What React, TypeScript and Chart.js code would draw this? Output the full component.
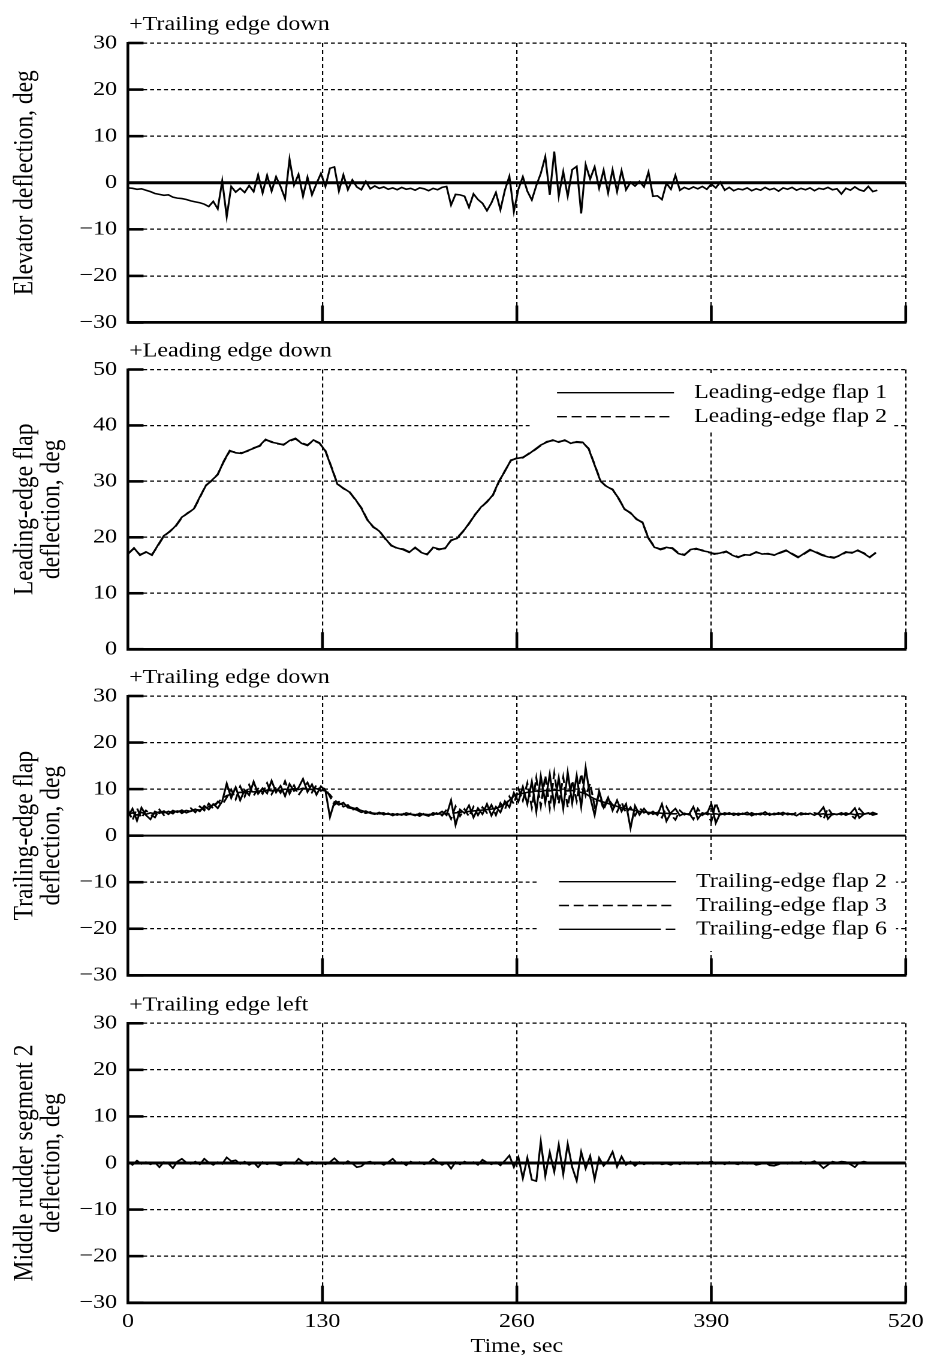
import React, { useEffect, useRef } from "react";
import { Chart, registerables } from "chart.js";

Chart.register(...registerables);

// ---------------- data ----------------
const X_TICK_STEP = 130;
const X_MIN = 0;
const X_MAX = 520;

const PANEL_TITLES = ["+Trailing edge down", "+Leading edge down", "+Trailing edge down", "+Trailing edge left"];
const Y_TITLES: (string | string[])[] = [
  "Elevator deflection, deg",
  ["Leading-edge flap", "deflection, deg"],
  ["Trailing-edge flap", "deflection, deg"],
  ["Middle rudder segment 2", "deflection, deg"],
];
const X_TITLE = "Time, sec";

// elevator, one sample every 3 s
const ELEVATOR_STEP = 3;
const ELEVATOR = [
  -1.1, -1.2, -1.4, -1.3, -1.6, -1.9, -2.3, -2.5, -2.7, -2.6,
  -3.1, -3.3, -3.4, -3.6, -3.9, -4.1, -4.3, -4.6, -5.1, -4.0,
  -5.6, 0.4, -7.3, -0.8, -2.0, -1.2, -2.1, -0.6, -1.9, 1.7,
  -2.2, 1.6, -1.8, 1.3, -0.8, -3.4, 5.1, -0.5, 1.8, -2.9,
  1.2, -2.6, -0.2, 2.0, -0.8, 3.1, 3.4, -1.8, 1.7, -1.5,
  0.6, -0.9, -1.5, 0.3, -1.3, -0.7, -1.2, -0.9, -1.4, -1.1,
  -1.5, -1.0, -1.4, -1.2, -1.6, -1.1, -1.3, -1.7, -1.2, -1.5,
  -1.0, -0.8, -4.8, -2.5, -2.6, -2.9, -5.3, -2.4, -3.6, -4.4,
  -6.0, -4.3, -2.1, -5.8, -1.6, 1.4, -6.2, -1.4, 1.3, -1.8,
  -3.7, -0.6, 2.0, 5.6, -2.6, 6.7, -2.9, 2.4, -2.9, 2.8,
  3.5, -6.6, 3.9, 0.8, 3.4, -1.2, 2.7, -2.2, 2.8, -1.9,
  2.6, -1.5, 0.1, -0.7, 0.3, -0.9, 2.3, -2.9, -2.8, -3.6,
  -0.1, -1.4, 1.6, -1.6, -1.0, -1.4, -0.9, -1.3, -0.8, -1.4,
  -0.3, -1.1, 0.1, -1.6, -1.0, -1.7, -1.3, -1.5, -1.1, -1.7,
  -1.3, -1.6, -1.0, -1.5, -1.2, -1.8, -1.1, -1.4, -1.0, -1.6,
  -1.2, -1.5, -1.1, -1.7, -1.2, -1.4, -1.0, -1.5, -1.3, -2.4,
  -1.2, -1.6, -0.9, -1.5, -1.8, -0.8, -1.9, -1.6,
];

// leading-edge flaps, one sample every 4 s
const LE_STEP = 4;
const LE_FLAP_1 = [
  17.0, 18.1, 16.8, 17.4, 16.8, 18.6, 20.3, 21.0, 22.1, 23.6,
  24.3, 25.1, 27.2, 29.2, 30.2, 31.2, 33.6, 35.5, 35.1, 35.0,
  35.5, 35.9, 36.4, 37.5, 37.0, 36.8, 36.5, 37.3, 37.7, 36.8,
  36.4, 37.4, 36.9, 35.4, 32.5, 29.5, 28.8, 28.1, 26.8, 25.2,
  23.1, 21.9, 21.1, 19.8, 18.5, 18.1, 17.8, 17.3, 18.2, 17.3,
  16.9, 18.2, 17.9, 18.0, 19.5, 19.8, 21.0, 22.5, 24.0, 25.4,
  26.3, 27.6, 30.0, 31.8, 33.8, 34.1, 34.3, 34.9, 35.7, 36.5,
  37.0, 37.4, 37.0, 37.4, 36.8, 37.1, 37.0, 35.8, 32.9, 30.0,
  29.1, 28.5, 27.0, 25.0, 24.4, 23.2, 22.7, 19.8, 18.2, 17.9,
  18.2, 18.0, 17.1, 16.8, 17.8, 18.0, 17.6, 17.4, 17.0, 17.2,
  17.5, 16.8, 16.4, 16.9, 16.8, 17.4, 17.0, 17.1, 16.8, 17.3,
  17.7, 17.0, 16.4, 17.1, 17.8, 17.3, 16.8, 16.5, 16.3, 16.8,
  17.4, 17.2, 17.7, 17.1, 16.4, 17.3,
];
const LE_FLAP_2 = [
  17.1, 18.0, 16.9, 17.3, 16.9, 18.5, 20.2, 21.1, 22.0, 23.5,
  24.4, 25.0, 27.1, 29.3, 30.1, 31.3, 33.5, 35.4, 35.2, 35.1,
  35.4, 36.0, 36.3, 37.4, 37.1, 36.7, 36.6, 37.2, 37.6, 36.9,
  36.5, 37.3, 36.8, 35.5, 32.6, 29.6, 28.7, 28.2, 26.7, 25.3,
  23.2, 21.8, 21.2, 19.7, 18.6, 18.0, 17.9, 17.4, 18.1, 17.4,
  17.0, 18.1, 17.8, 18.1, 19.4, 19.9, 21.1, 22.4, 24.1, 25.3,
  26.4, 27.5, 29.9, 31.9, 33.7, 34.2, 34.2, 35.0, 35.6, 36.4,
  37.1, 37.3, 37.1, 37.3, 36.9, 37.0, 36.9, 35.9, 33.0, 30.1,
  29.0, 28.6, 26.9, 25.1, 24.3, 23.3, 22.6, 19.9, 18.3, 17.8,
  18.1, 18.1, 17.2, 16.9, 17.7, 17.9, 17.7, 17.3, 17.1, 17.1,
  17.4, 16.9, 16.5, 16.8, 16.9, 17.3, 17.1, 17.0, 16.9, 17.2,
  17.6, 17.1, 16.5, 17.0, 17.7, 17.4, 16.9, 16.6, 16.4, 16.7,
  17.3, 17.3, 17.6, 17.2, 16.5, 17.2,
];

// trailing-edge flaps, one sample every 3 s
const TE_STEP = 3;
const TE_FLAP_2 = [
  4.1, 5.8, 3.2, 6.0, 4.4, 3.5, 5.2, 4.8, 5.3, 4.6,
  5.4, 5.0, 5.5, 4.9, 5.3, 5.7, 5.2, 6.4, 5.6, 6.8,
  5.9, 7.4, 11.2, 8.1, 10.4, 7.6, 9.8, 8.7, 11.6, 9.0,
  10.2, 9.1, 11.8, 9.3, 10.7, 8.5, 11.1, 9.6, 10.3, 12.2,
  9.4, 11.0, 8.8, 10.6, 9.7, 4.0, 7.2, 6.6, 7.1, 6.0,
  5.8, 5.5, 5.0, 5.3, 4.8, 4.6, 5.0, 4.5, 4.8, 4.3,
  4.7, 4.4, 4.9, 4.6, 4.3, 4.8, 4.5, 4.2, 4.9, 4.6,
  5.2, 4.4, 7.6, 2.3, 5.6, 4.8, 6.5, 3.9, 5.9, 4.6,
  6.8, 4.3, 6.2, 5.0, 7.4, 6.1, 9.2, 7.3, 10.5, 6.8,
  11.6, 5.2, 12.8, 7.1, 13.2, 6.4, 12.4, 5.8, 13.6, 7.0,
  12.9, 6.2, 14.6, 8.3, 4.4, 9.6, 6.1, 8.2, 5.4, 7.6,
  5.2, 6.8, 1.6, 6.4, 4.5, 5.8, 4.6, 5.2, 4.4, 6.8,
  3.1, 4.9, 5.8, 4.3, 4.8, 4.5, 6.2, 3.6, 4.9, 4.6,
  6.9, 2.7, 4.8, 4.5, 4.9, 4.4, 4.8, 4.6, 5.0, 4.3,
  4.7, 4.5, 5.1, 4.4, 4.8, 4.6, 5.0, 4.5, 4.7, 4.3,
  4.9, 4.6, 4.8, 4.4, 4.9, 6.1, 3.6, 4.7, 4.5, 4.9,
  4.4, 4.8, 5.9, 3.8, 4.6, 4.9, 4.4, 4.7,
];
const TE_FLAP_3 = [
  5.6, 3.3, 5.9, 3.8, 5.4, 4.6, 3.9, 5.6, 4.4, 5.2,
  4.7, 5.6, 4.8, 5.4, 5.9, 5.0, 6.3, 5.4, 6.9, 5.8,
  7.3, 6.6, 8.2, 9.9, 7.8, 10.6, 8.4, 10.9, 8.6, 10.1,
  9.0, 11.3, 8.9, 10.5, 9.2, 11.7, 9.0, 10.8, 8.7, 10.1,
  11.4, 9.3, 10.9, 9.6, 10.2, 8.4, 6.6, 7.3, 6.2, 6.6,
  5.5, 6.0, 5.2, 4.8, 5.1, 4.4, 4.8, 4.9, 4.3, 4.7,
  4.4, 4.9, 4.4, 4.8, 4.7, 4.2, 4.8, 4.6, 4.4, 5.0,
  4.3, 5.6, 3.6, 6.3, 4.2, 5.7, 4.1, 6.2, 4.4, 6.1,
  4.9, 6.6, 4.4, 7.0, 5.6, 8.4, 6.8, 10.1, 7.5, 11.3,
  6.0, 12.4, 6.3, 12.9, 5.9, 13.4, 6.9, 12.6, 6.1, 11.8,
  7.4, 13.3, 8.6, 11.2, 6.3, 8.8, 5.6, 7.9, 6.6, 5.1,
  7.2, 4.8, 6.1, 4.3, 6.0, 4.9, 5.4, 4.6, 5.0, 3.9,
  6.2, 4.5, 3.4, 5.4, 4.5, 4.9, 3.5, 5.8, 4.4, 5.0,
  3.0, 7.1, 4.5, 4.9, 4.6, 4.9, 4.4, 4.8, 4.4, 4.9,
  4.5, 4.9, 4.5, 4.8, 4.5, 4.9, 4.4, 4.8, 4.5, 5.0,
  4.5, 4.8, 4.5, 4.9, 4.6, 3.5, 5.9, 4.5, 4.8, 4.5,
  4.9, 4.5, 3.7, 5.8, 4.7, 4.5, 5.0, 4.6,
];
const TE_FLAP_6 = [
  4.6, 4.9, 4.4, 5.0, 4.6, 4.9, 4.7, 5.1, 4.9, 5.2,
  5.0, 5.3, 5.1, 5.4, 5.2, 5.6, 5.5, 5.9, 6.2, 6.6,
  7.1, 8.0, 8.6, 8.9, 9.1, 9.3, 9.2, 9.5, 9.4, 9.6,
  9.5, 9.8, 9.6, 9.9, 9.7, 10.0, 9.8, 10.1, 9.9, 10.2,
  10.0, 9.9, 10.1, 9.8, 9.6, 8.8, 7.6, 7.0, 6.6, 6.3,
  6.0, 5.7, 5.4, 5.1, 4.9, 4.8, 4.7, 4.7, 4.6, 4.6,
  4.5, 4.6, 4.5, 4.6, 4.5, 4.5, 4.6, 4.5, 4.6, 4.7,
  4.6, 4.8, 4.7, 4.9, 5.0, 5.1, 5.2, 5.3, 5.4, 5.5,
  5.6, 5.7, 5.9, 6.2, 6.8, 7.6, 8.5, 8.9, 9.1, 9.3,
  9.4, 9.6, 9.5, 9.7, 9.6, 9.8, 9.7, 9.8, 9.6, 9.7,
  9.5, 9.3, 9.0, 8.4, 7.9, 7.5, 7.2, 6.9, 6.6, 6.3,
  6.0, 5.8, 5.6, 5.4, 5.2, 5.1, 5.0, 4.9, 4.9, 4.8,
  4.8, 4.7, 4.7, 4.8, 4.6, 4.7, 4.5, 4.7, 4.6, 4.8,
  4.6, 4.7, 4.5, 4.7, 4.6, 4.8, 4.6, 4.7, 4.5, 4.7,
  4.6, 4.8, 4.6, 4.7, 4.5, 4.7, 4.6, 4.8, 4.6, 4.7,
  4.5, 4.7, 4.6, 4.8, 4.6, 4.7, 4.5, 4.7, 4.6, 4.8,
  4.6, 4.7, 4.5, 4.7, 4.6, 4.8, 4.6, 4.7,
];

// middle rudder segment 2, one sample every 3 s
const RUDDER_STEP = 3;
const RUDDER = [
  0.3, -0.4, 0.5, -0.2, 0.2, -0.3, 0.1, -0.9, 0.2, -0.1,
  -1.1, 0.3, 0.9, 0.1, -0.2, 0.3, -0.3, 0.9, 0.1, -0.4,
  0.2, -0.2, 1.2, 0.4, 0.6, -0.2, 0.3, -0.4, 0.1, -0.9,
  0.2, -0.3, 0.1, -0.2, -0.5, 0.2, 0.1, -0.2, 0.9, 0.2,
  -0.4, 0.3, -0.2, 0.1, -0.3, 0.2, 1.0, 0.1, -0.2, 0.4,
  -0.1, -0.9, -0.7, 0.1, 0.3, -0.2, 0.1, -0.4, 0.2, 0.9,
  -0.1, 0.2, -0.5, 0.3, -0.1, 0.2, -0.3, 0.1, 0.9, 0.2,
  -0.4, 0.1, -1.2, 0.2, -0.3, 0.3, -0.1, 0.2, -0.4, 0.7,
  0.1, -0.3, 0.2, -0.5, 0.5, 1.6, -0.9, 1.3, -3.3, 1.1,
  -3.6, -3.9, 4.6, -2.8, 2.3, -1.9, 3.9, -2.4, 4.1, -0.9,
  -3.8, 2.4, -1.2, 1.5, -3.5, 1.1, -0.6, 0.5, 2.4, -0.8,
  1.4, -0.4, 0.3, -0.6, 0.2, -0.3, 0.1, -0.2, 0.1, -0.3,
  -0.1, -0.4, 0.1, -0.3, 0.2, -0.2, 0.1, -0.3, 0.2, -0.1,
  0.4, -0.2, 0.1, -0.3, 0.2, -0.1, -0.3, 0.2, -0.2, 0.1,
  -0.4, -0.2, 0.1, -0.5, -0.6, -0.3, 0.1, -0.2, 0.2, -0.1,
  0.3, -0.2, 0.1, 0.4, -0.2, -1.1, -0.4, 0.3, 0.1, 0.3,
  0.2, -0.3, -0.9, 0.1, 0.3, 0.1, 0.0, 0.1,
];

// ---------------- styling ----------------
const FONT_FAMILY = '"Liberation Serif", "Times New Roman", Times, serif';
const PAGE_W = 928;
const LOGICAL_W = 774; // drawn narrower, displayed stretched to page width
const SX = PAGE_W / LOGICAL_W;
const lx = (pageX: number) => pageX / SX;

Chart.defaults.font.family = FONT_FAMILY;
Chart.defaults.color = "#000";

type LegendCfg = {
  x1: number; x2: number; top: number; bottom: number;
  row0: number; rowGap: number; lineX1: number; lineX2: number; textX: number;
};

const decoPlugin = {
  id: "deco",
  beforeDatasetsDraw(chart: any, _a: any, opts: any) {
    const { ctx, chartArea: a, scales } = chart;
    if (opts.zeroWidth) {
      const y = scales.y.getPixelForValue(0);
      ctx.save();
      ctx.strokeStyle = "#000";
      ctx.lineWidth = opts.zeroWidth;
      ctx.beginPath();
      ctx.moveTo(a.left, y);
      ctx.lineTo(a.right, y);
      ctx.stroke();
      ctx.restore();
    }
  },
  afterDatasetsDraw(chart: any, _a: any, opts: any) {
    const { ctx, chartArea: a, scales } = chart;
    ctx.save();
    ctx.strokeStyle = "#000";
    ctx.setLineDash([]);
    // inward tick marks
    ctx.lineWidth = 2.6;
    scales.y.ticks.forEach((t: any) => {
      const y = scales.y.getPixelForValue(t.value);
      ctx.beginPath();
      ctx.moveTo(a.left, y);
      ctx.lineTo(a.left + lx(15.5), y);
      ctx.stroke();
    });
    ctx.lineWidth = 2.3;
    scales.x.ticks.forEach((t: any) => {
      if (t.value === X_MIN) return;
      const x = scales.x.getPixelForValue(t.value);
      ctx.beginPath();
      ctx.moveTo(x, a.bottom);
      ctx.lineTo(x, a.bottom - 17);
      ctx.stroke();
    });
    // panel caption
    ctx.fillStyle = "#000";
    ctx.font = `20px ${FONT_FAMILY}`;
    ctx.textAlign = "left";
    ctx.textBaseline = "alphabetic";
    ctx.fillText(opts.title, a.left + 1, a.top - 13);
    // legend
    const L: LegendCfg | undefined = opts.legend;
    if (L) {
      ctx.fillStyle = "#fff";
      ctx.fillRect(L.x1, a.top + L.top, L.x2 - L.x1, L.bottom - L.top);
      chart.data.datasets.forEach((ds: any, i: number) => {
        const y = a.top + L.row0 + i * L.rowGap;
        ctx.strokeStyle = "#000";
        ctx.lineWidth = 1.4;
        ctx.setLineDash(ds.borderDash || []);
        ctx.beginPath();
        ctx.moveTo(L.lineX1, y);
        ctx.lineTo(L.lineX2, y);
        ctx.stroke();
        ctx.setLineDash([]);
        ctx.fillStyle = "#000";
        ctx.textBaseline = "middle";
        ctx.fillText(ds.label, L.textX, y);
      });
    }
    ctx.restore();
  },
};

const series = (values: number[], step: number) => values.map((v, i) => ({ x: i * step, y: v }));

const DASHED = [8.3, 3.9];
const DASH_DOT = [85, 4, 8, 4];

interface PanelCfg {
  top: number; height: number; padTop: number; padBottom: number; xHeight: number;
  yMin: number; yMax: number; title: string; yTitle: string | string[];
  datasets: any[]; showX: boolean; zeroWidth: number; legend?: LegendCfg;
}

const PANELS: PanelCfg[] = [
  {
    top: 0, height: 330, padTop: 43, padBottom: 7.5, xHeight: 0, yMin: -30, yMax: 30,
    title: PANEL_TITLES[0], yTitle: Y_TITLES[0], showX: false, zeroWidth: 3,
    datasets: [{ label: "Elevator", data: series(ELEVATOR, ELEVATOR_STEP) }],
  },
  {
    top: 330, height: 327, padTop: 39.5, padBottom: 7.8, xHeight: 0, yMin: 0, yMax: 50,
    title: PANEL_TITLES[1], yTitle: Y_TITLES[1], showX: false, zeroWidth: 0,
    datasets: [
      { label: "Leading-edge flap 1", data: series(LE_FLAP_1, LE_STEP) },
      { label: "Leading-edge flap 2", data: series(LE_FLAP_2, LE_STEP), borderDash: DASHED },
    ],
    legend: { x1: lx(532), x2: lx(894), top: 3.5, bottom: 62.5, row0: 23.2, rowGap: 24, lineX1: lx(557), lineX2: lx(674), textX: lx(694) },
  },
  {
    top: 657, height: 327, padTop: 39, padBottom: 8.7, xHeight: 0, yMin: -30, yMax: 30,
    title: PANEL_TITLES[2], yTitle: Y_TITLES[2], showX: false, zeroWidth: 2,
    datasets: [
      { label: "Trailing-edge flap 2", data: series(TE_FLAP_2, TE_STEP) },
      { label: "Trailing-edge flap 3", data: series(TE_FLAP_3, TE_STEP), borderDash: DASHED },
      { label: "Trailing-edge flap 6", data: series(TE_FLAP_6, TE_STEP), borderDash: DASH_DOT },
    ],
    legend: { x1: lx(537), x2: lx(896), top: 164, bottom: 255, row0: 185.7, rowGap: 23.8, lineX1: lx(559), lineX2: lx(676), textX: lx(696) },
  },
  {
    top: 984, height: 378, padTop: 39.3, padBottom: 0, xHeight: 59.3, yMin: -30, yMax: 30,
    title: PANEL_TITLES[3], yTitle: Y_TITLES[3], showX: true, zeroWidth: 3,
    datasets: [{ label: "Middle rudder segment 2", data: series(RUDDER, RUDDER_STEP) }],
  },
];

function Panel({ cfg }: { cfg: PanelCfg }) {
  const ref = useRef<HTMLCanvasElement | null>(null);
  useEffect(() => {
    const canvas = ref.current;
    if (!canvas) return;
    const tickFont = { family: FONT_FAMILY, size: 20 };
    const chart = new Chart(canvas, {
      type: "line",
      data: {
        datasets: cfg.datasets.map((d) => ({
          ...d,
          borderColor: "#000",
          backgroundColor: "#000",
          borderWidth: 1.6,
          pointRadius: 0,
          tension: 0,
          fill: false,
        })),
      },
      options: {
        animation: false,
        responsive: false,
        devicePixelRatio: 2,
        events: [],
        layout: { padding: { left: 0, right: LOGICAL_W - lx(905.7), top: cfg.padTop, bottom: cfg.padBottom } },
        plugins: {
          legend: { display: false },
          tooltip: { enabled: false },
          title: { display: false },
          deco: { title: cfg.title, zeroWidth: cfg.zeroWidth, legend: cfg.legend },
        } as any,
        scales: {
          x: {
            type: "linear",
            position: "bottom",
            min: X_MIN,
            max: X_MAX,
            ticks: {
              stepSize: X_TICK_STEP,
              display: cfg.showX,
              padding: 6.8,
              font: tickFont,
              color: "#000",
              maxRotation: 0,
              autoSkip: false,
              callback: (v: any) => String(v),
            },
            grid: { color: "#000", lineWidth: 1.1, drawTicks: false },
            border: { display: true, color: "#000", width: 2.7, dash: [4, 3] },
            title: { display: cfg.showX, text: X_TITLE, font: tickFont, color: "#000", padding: { top: 0, bottom: 3.4 } },
            afterFit: (s: any) => {
              s.height = cfg.xHeight;
              s.paddingLeft = 0;
              s.paddingRight = 0;
            },
          },
          y: {
            type: "linear",
            position: "left",
            min: cfg.yMin,
            max: cfg.yMax,
            ticks: {
              stepSize: 10,
              padding: lx(11),
              font: tickFont,
              color: "#000",
              callback: (v: any) => (Number(v) < 0 ? "\u2212" + Math.abs(Number(v)) : String(v)),
            },
            grid: { color: "#000", lineWidth: 1.3, drawTicks: false },
            border: { display: true, color: "#000", width: 2.3, dash: [3.3, 2.5] },
            title: {
              display: true,
              text: cfg.yTitle,
              font: { family: FONT_FAMILY, size: 23.5, lineHeight: 0.96 },
              color: "#000",
              padding: { top: 9.6, bottom: 0 },
            },
            afterFit: (s: any) => {
              s.width = lx(128);
              s.paddingTop = 0;
              s.paddingBottom = 0;
            },
          },
        },
      } as any,
      plugins: [decoPlugin],
    });
    return () => chart.destroy();
  }, [cfg]);
  return (
    <canvas
      ref={ref}
      width={LOGICAL_W}
      height={cfg.height}
      style={{ position: "absolute", left: 0, top: cfg.top, width: `${PAGE_W}px`, height: `${cfg.height}px`, display: "block" }}
    />
  );
}

export default function App() {
  return (
    <div style={{ position: "absolute", left: 0, top: 0, width: PAGE_W, height: 1362, background: "#fff" }}>
      {PANELS.map((p, i) => (
        <Panel key={i} cfg={p} />
      ))}
    </div>
  );
}
